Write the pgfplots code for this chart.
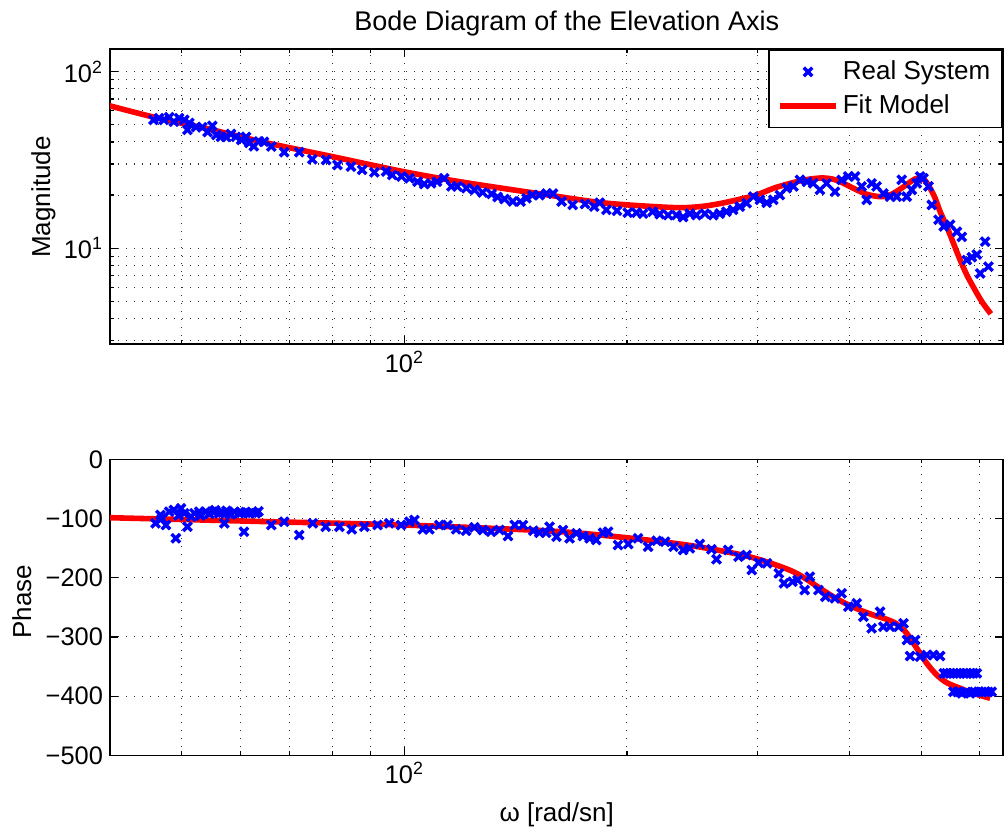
\documentclass[border=0pt]{standalone}
\usepackage{fontspec}
\setmainfont{Liberation Sans}
\usepackage{pgfplots}
\pgfplotsset{compat=1.18}
\begin{document}
\begin{tikzpicture}[x=1pt,y=1pt]
\useasboundingbox (0,0) rectangle (502.5,415.5);
\begin{axis}[at={(55pt,243.5pt)}, anchor=south west,
  scale only axis, width=446.5pt, height=147.4pt,
  xmode=log, xmin=40, xmax=645,
  xtick={100}, xticklabels={10\textsuperscript{2}},
  minor xtick={40,50,60,70,80,90,200,300,400,500,600},
  ymode=log, ymin=2.87, ymax=134,
  ytick={10,100}, yticklabels={10\textsuperscript{1},10\textsuperscript{2}},
  minor ytick={3,4,5,6,7,8,9,20,30,40,50,60,70,80,90},
  grid=both,
  major grid style={black!80, line width=0.55pt, dash pattern=on 0.55pt off 3.45pt},
  minor grid style={black!80, line width=0.55pt, dash pattern=on 0.55pt off 3.45pt},
  tick align=inside,
  axis line style={line width=0.8pt},
  major tick length=4pt, minor tick length=2pt,
  every tick/.style={black, line width=0.6pt},
  tick label style={font=\fontsize{12.7}{15}\selectfont},
  legend image code/.code={\draw[mark repeat=2,mark phase=2,#1] plot coordinates {(0pt,0pt) (14pt,0pt) (28pt,0pt)};},
  legend style={at={(1,1)}, anchor=north east, draw=black, line width=0.8pt,
    font=\fontsize{13}{15}\selectfont, inner xsep=4pt, inner ysep=3.5pt, row sep=2pt},
  legend cell align=left]
\addplot[only marks, mark=x, mark size=3pt, color=blue, mark options={line width=1.7pt}] coordinates {
(45.8,53.3)(46.6,54.5)(47.3,53.3)(48.1,55.2)(48.8,52.1)(49.6,54.5)(50.4,53.3)(50.9,46.8)(51.2,51.2)(52.3,48.6)(53.3,48.4)(54.2,45.5)(55.0,49.3)(55.7,43.8)(56.5,42.7)(57.4,42.7)(58.3,44.4)(59.2,42.7)(60.2,41.1)(61.1,42.7)(61.7,39.5)(62.6,37.8)(63.6,40.3)(64.6,40.1)(66.1,37.7)(68.8,35.0)(72.1,35.0)(75.1,31.9)(78.4,31.6)(81.2,29.6)(84.7,29.0)(87.7,27.8)(91.1,26.9)(94.5,27.2)(96.3,26.0)(99.1,25.5)(101.6,24.9)(104.2,23.8)(106.4,23.1)(108.7,23.3)(110.7,23.8)(113.2,24.9)(115.8,22.4)(117.9,22.4)(121.3,21.9)(124.4,21.4)(127.6,20.7)(131.2,20.3)(133.7,19.5)(136.6,19.0)(140.2,18.4)(143.6,18.4)(146.3,19.2)(149.0,20.0)(152.3,20.0)(155.7,20.4)(158.9,20.4)(163.2,18.4)(168.9,17.6)(175.5,17.8)(180.6,17.2)(183.7,18.1)(187.6,16.5)(193.9,16.3)(200.5,15.9)(206.0,15.9)(210.3,15.7)(216.6,16.1)(221.5,15.6)(227.4,15.4)(233.3,15.4)(238.2,15.0)(243.2,15.7)(248.3,15.4)(254.9,15.7)(261.6,15.4)(267.0,15.7)(272.6,16.1)(278.3,16.5)(284.2,17.2)(290.3,18.0)(296.4,19.6)(302.5,18.8)(309.0,18.1)(315.4,18.8)(322.0,20.0)(328.9,21.9)(335.8,22.4)(342.7,24.4)(350.3,23.8)(357.2,23.3)(364.7,21.4)(372.4,23.3)(382.2,20.9)(390.3,24.4)(398.4,25.5)(406.8,25.5)(415.3,22.4)(421.9,18.8)(428.4,23.3)(435.1,22.4)(444.3,20.4)(453.7,19.6)(463.3,19.6)(470.5,24.4)(477.9,19.6)(485.4,21.4)(493.1,23.3)(498.2,25.5)(503.2,24.9)(511.3,22.4)(516.6,17.6)(527.6,14.5)(536.2,13.3)(547.0,13.6)(558.6,12.4)(567.3,11.6)(576.2,8.58)(585.2,8.9)(594.4,9.2)(600.6,7.2)(610.0,10.9)(616.3,7.87)
};
\addlegendentry{Real System}
\addplot[red, line width=2.8pt, smooth, tension=0.5] coordinates {
(39.9,64.2)(45.9,55.2)(54.5,47.2)(65.0,39.6)(80.0,33.0)(100,27.1)(121.2,23.5)(157.2,19.96)(187.6,18.0)(230.8,17.0)(250.9,17.2)(267.0,17.9)(284.2,18.95)(299.4,20.04)(318.6,22.15)(342.7,24.05)(357.2,24.78)(368.5,25.0)(380.2,24.59)(392.4,23.34)(404.6,21.87)(421.9,20.22)(439.8,19.6)(453.7,20.04)(468.1,21.59)(480.3,23.34)(490.5,24.69)(498.2,25.0)(506.0,24.14)(514.0,21.87)(522.1,19.19)(530.2,16.12)(541.4,13.25)(552.7,10.67)(564.3,8.59)(576.2,7.06)(588.3,6.01)(603.9,4.98)(621.0,4.25)
};
\addlegendentry{Fit Model}
\end{axis}
\begin{axis}[at={(55pt,37.85pt)}, anchor=south west,
  scale only axis, width=446.5pt, height=148pt,
  xmode=log, xmin=40, xmax=645,
  xtick={100}, xticklabels={10\textsuperscript{2}},
  minor xtick={40,50,60,70,80,90,200,300,400,500,600},
  ymin=-500, ymax=0,
  ytick={-500,-400,-300,-200,-100,0},
  yticklabels={−500,−400,−300,−200,−100,0},
  grid=both,
  major grid style={black!80, line width=0.55pt, dash pattern=on 0.55pt off 3.45pt},
  minor grid style={black!80, line width=0.55pt, dash pattern=on 0.55pt off 3.45pt},
  tick align=inside,
  axis line style={line width=0.8pt},
  major tick length=4pt, minor tick length=2pt,
  every tick/.style={black, line width=0.6pt},
  tick label style={font=\fontsize{12.7}{15}\selectfont}]
\addplot[only marks, mark=x, mark size=3pt, color=blue, mark options={line width=1.7pt}] coordinates {
(46.1,-108.1)(46.8,-94.1)(47.0,-100)(47.6,-111.0)(48.1,-88.5)(48.8,-85.6)(49.1,-133.4)(49.5,-95)(49.9,-82.8)(50.4,-91.2)(50.9,-113.9)(51.5,-97)(52.0,-91.2)(52.8,-88.5)(53.0,-95)(53.9,-88.5)(54.5,-92)(55.1,-88.5)(55.5,-86)(56.2,-91.2)(56.8,-90)(57.1,-108.1)(57.5,-87)(57.9,-91.2)(58.3,-93)(58.9,-88.5)(59.8,-91.2)(60.2,-90)(60.7,-122.3)(61.0,-89)(61.7,-91.2)(62.3,-90)(63.0,-91.2)(63.5,-88)(66.1,-111.0)(68.8,-105.4)(72.1,-127.9)(75.2,-108.1)(78.3,-113.9)(81.7,-113.9)(84.9,-118.2)(88.3,-113.9)(92.0,-111.0)(95.4,-108.1)(99.0,-111.0)(101.6,-105.4)(103.2,-102.5)(105.9,-118.2)(108.1,-118.2)(111.5,-111.0)(114.4,-111.0)(117.5,-118.2)(121.2,-120.6)(124.4,-114.9)(127.7,-119.4)(131.0,-122.3)(134.5,-119.4)(138.1,-129.6)(141.0,-111.0)(144.7,-111.0)(149.4,-120.6)(152.3,-124.0)(155.5,-124.0)(157.2,-113.9)(160.6,-130.7)(163.9,-119.4)(167.3,-133.4)(170.9,-125.0)(174.4,-129.6)(178.1,-133.4)(181.8,-136.3)(185.7,-124.0)(188.6,-122.3)(194.5,-144.8)(200.8,-143.1)(207.0,-133.4)(213.6,-147.6)(219.4,-137.5)(225.2,-139.2)(231.2,-147.6)(238.2,-153.2)(243.2,-150.3)(250.9,-143.1)(260.2,-152.0)(264.3,-168.9)(274.1,-153.2)(283.1,-164.5)(290.3,-161.7)(295.0,-187.0)(301.3,-174.7)(309.3,-175.7)(321.0,-192.6)(326.1,-209.5)(334.9,-206.8)(340.3,-203.9)(347.8,-220.8)(353.5,-198.3)(363.0,-220.8)(371.0,-232.1)(382.2,-234.8)(390.3,-226.4)(398.4,-249.0)(409.0,-243.2)(417.6,-265.9)(428.4,-285.5)(439.8,-257.4)(444.3,-282.8)(453.7,-282.8)(465.7,-282.8)(473.1,-277.0)(478.2,-305.2)(482.9,-332.3)(490.6,-305.2)(498.2,-333.4)(508.7,-330.6)(519.2,-330.6)(530.2,-332.3)(536.2,-361.5)(541,-361.5)(547.0,-361.5)(553,-361.5)(558.6,-361.5)(564,-361.5)(570.4,-361.5)(576,-361.5)(582.2,-361.5)(588,-361.5)(594.4,-361.5)(552.6,-392.6)(560,-393)(567.3,-395.3)(575,-393)(582.2,-395.3)(590,-393)(597.4,-392.6)(604,-393)(610.0,-392.6)(616,-393)(622.6,-392.6)
};
\addplot[red, line width=2.8pt, smooth, tension=0.5] coordinates {
(39.9,-98.6)(65,-105.2)(100,-111)(157.2,-121.1)(197.5,-131.8)(235.8,-143.1)(261.5,-152.0)(290.2,-163.3)(315.4,-176.9)(335.8,-189.9)(349.9,-202.7)(364.7,-217.9)(380.2,-232.1)(396.3,-244.4)(413.2,-254.6)(430.6,-263.0)(449.0,-270.3)(463.4,-278.2)(477.9,-293.9)(493.1,-319.3)(508.6,-344.6)(524.8,-364.4)(541.4,-377.4)(564.3,-386.8)(588.3,-395.3)(619.6,-403.7)
};
\end{axis}
\node[font=\fontsize{13.5}{16}\selectfont, anchor=base] at (283.35,400.15) {Bode Diagram of the Elevation Axis};
\node[font=\fontsize{13}{15}\selectfont, rotate=90, anchor=base] at (25,317) {Magnitude};
\node[font=\fontsize{13}{15}\selectfont, rotate=90, anchor=base] at (15.5,114.6) {Phase};
\node[font=\fontsize{13}{15}\selectfont, anchor=base] at (278.35,5) {ω [rad/sn]};
\end{tikzpicture}
\end{document}
